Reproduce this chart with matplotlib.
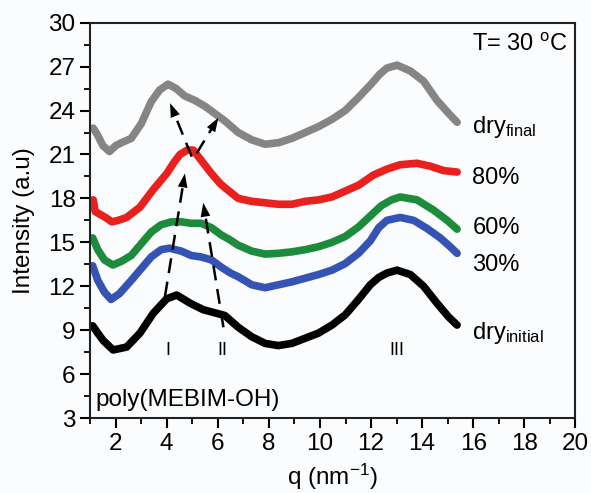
import matplotlib
matplotlib.use("Agg")
import matplotlib.pyplot as plt
from matplotlib.ticker import MultipleLocator

plt.rcParams['font.family'] = ['Liberation Sans', 'DejaVu Sans']
plt.rcParams['mathtext.default'] = 'regular'

# curves (q in nm^-1, intensity in a.u.)
q_final = [1.12, 1.3, 1.5, 1.76, 2.0, 2.22, 2.61, 3.0, 3.39, 3.72, 4.05, 4.37, 4.70,
           5.09, 5.49, 5.88, 6.27, 6.60, 6.80, 7.33, 7.85, 8.37, 8.90, 9.42, 9.94,
           10.47, 10.99, 11.51, 12.0, 12.35, 12.62, 13.02, 13.54, 14.06, 14.58, 15.04, 15.37]
i_final = [22.8, 22.3, 21.6, 21.2, 21.6, 21.8, 22.1, 23.1, 24.6, 25.4, 25.8, 25.5, 25.0,
           24.7, 24.3, 23.8, 23.3, 22.8, 22.5, 22.0, 21.7, 21.8, 22.1, 22.5, 22.9,
           23.4, 24.0, 24.9, 25.8, 26.5, 26.9, 27.1, 26.7, 26.0, 24.7, 23.8, 23.2]

q_80 = [1.12, 1.2, 1.4, 1.6, 1.85, 2.1, 2.43, 2.95, 3.47, 4.0, 4.3, 4.52, 4.8, 5.04,
        5.35, 5.75, 6.1, 6.3, 6.8, 7.33, 7.85, 8.37, 8.9, 9.42, 9.94, 10.47, 10.99,
        11.51, 12.1, 12.62, 13.14, 13.8, 14.32, 14.84, 15.37]
i_80 = [17.9, 17.1, 16.9, 16.7, 16.4, 16.5, 16.7, 17.4, 18.6, 19.7, 20.5, 21.0, 21.3, 21.3,
        20.6, 19.7, 19.0, 18.7, 18.0, 17.8, 17.7, 17.6, 17.6, 17.8, 17.9, 18.1, 18.5,
        18.9, 19.6, 20.0, 20.3, 20.4, 20.2, 19.9, 19.8]

q_60 = [1.1, 1.3, 1.56, 1.89, 2.22, 2.61, 3.0, 3.39, 3.78, 4.18, 4.57, 4.96, 5.35, 5.75,
        6.14, 6.45, 6.8, 7.33, 7.85, 8.37, 8.9, 9.42, 9.94, 10.47, 10.99, 11.51, 11.97,
        12.4, 12.8, 13.14, 13.8, 14.45, 14.98, 15.37]
i_60 = [15.3, 14.5, 13.8, 13.45, 13.7, 14.1, 14.9, 15.7, 16.2, 16.4, 16.4, 16.3, 16.3, 16.0,
        15.5, 15.2, 14.8, 14.4, 14.2, 14.25, 14.35, 14.5, 14.7, 15.0, 15.4, 16.05, 16.8,
        17.5, 17.9, 18.1, 17.9, 17.2, 16.5, 15.9]

q_30 = [1.1, 1.3, 1.56, 1.82, 2.15, 2.61, 3.0, 3.39, 3.78, 4.11, 4.57, 4.96, 5.35, 5.75,
        6.14, 6.5, 6.8, 7.33, 7.85, 8.37, 8.9, 9.42, 9.94, 10.47, 10.99, 11.51, 11.97,
        12.3, 12.62, 13.14, 13.67, 14.19, 14.71, 15.1, 15.37]
i_30 = [13.4, 12.4, 11.6, 11.1, 11.5, 12.4, 13.2, 14.0, 14.5, 14.6, 14.4, 14.1, 14.0, 13.8,
        13.3, 12.9, 12.65, 12.1, 11.9, 12.1, 12.3, 12.55, 12.8, 13.1, 13.55, 14.25, 15.1,
        16.0, 16.5, 16.7, 16.5, 15.95, 15.3, 14.7, 14.25]

q_init = [1.1, 1.3, 1.51, 1.9, 2.43, 2.95, 3.47, 4.0, 4.39, 4.91, 5.43, 5.96, 6.28, 6.8,
          7.33, 7.85, 8.37, 8.9, 9.42, 9.94, 10.47, 10.99, 11.51, 11.97, 12.3, 12.62,
          13.02, 13.54, 14.06, 14.58, 15.04, 15.37]
i_init = [9.3, 8.8, 8.3, 7.65, 7.85, 8.8, 10.15, 11.15, 11.4, 10.85, 10.4, 10.15, 10.0, 9.2,
          8.55, 8.1, 7.95, 8.1, 8.45, 8.8, 9.35, 10.05, 11.1, 12.1, 12.6, 12.9,
          13.1, 12.8, 12.0, 10.85, 9.9, 9.35]

labels = ['dry$_{final}$', '80%', '60%', '30%', 'dry$_{initial}$']
label_y = [22.9, 19.4, 16.0, 13.45, 8.8]
colors = ['#858585', '#e8201e', '#1c8c3c', '#3453b4', '#000000']

# dashed peak-shift arrows (tail q, tail I, head q, head I)
arrows = [(3.93, 11.3, 4.71, 19.7),
          (6.22, 9.2, 5.43, 17.7),
          (4.98, 20.85, 4.13, 24.5),
          (5.17, 21.08, 6.02, 23.5)]
peaks = ['I', 'II', 'III']
peak_q = [4.05, 6.17, 13.03]

bg = '#fbfcfd'
fig = plt.figure(figsize=(5.91, 4.93), dpi=100, facecolor=bg)
ax = fig.add_axes([0.1525, 0.152, 0.821, 0.802], facecolor=bg)

series = [(q_final, i_final), (q_80, i_80), (q_60, i_60), (q_30, i_30), (q_init, i_init)]
for (q, inten), c in zip(series, colors):
    ax.plot(q, inten, color=c, lw=5.5, solid_joinstyle='round', solid_capstyle='round')

for (x0, y0, x1, y1) in arrows:
    ax.plot([x0, x1 - 0.12 * (x1 - x0)], [y0, y1 - 0.12 * (y1 - y0)], color='black',
            lw=1.8, ls=(0, (6, 3.5)))
    ax.annotate('', xy=(x1, y1), xytext=(x0 + 0.8 * (x1 - x0), y0 + 0.8 * (y1 - y0)),
                arrowprops=dict(arrowstyle='-|>,head_length=1.0,head_width=0.35',
                                color='black', lw=0, shrinkA=0, shrinkB=0))

for lab, y in zip(labels, label_y):
    ax.text(15.97, y, lab, fontsize=17, va='center', ha='left')

for p, q in zip(peaks, peak_q):
    ax.text(q, 7.6, p, fontsize=13, ha='center', va='center')

ax.text(15.97, 28.5, 'T= 30 $^{o}$C', fontsize=17, va='center', ha='left')
ax.text(1.2, 4.2, 'poly(MEBIM-OH)', fontsize=17.5, va='center', ha='left')

ax.set_xlim(1, 20)
ax.set_ylim(3, 30)
ax.xaxis.set_major_locator(MultipleLocator(2))
ax.xaxis.set_minor_locator(MultipleLocator(1))
ax.yaxis.set_major_locator(MultipleLocator(3))
ax.yaxis.set_minor_locator(MultipleLocator(1.5))
ax.tick_params(which='major', direction='out', length=7, width=1.5, labelsize=17.5)
ax.tick_params(which='minor', direction='out', length=4, width=1.3)
for s in ax.spines.values():
    s.set_linewidth(1.5)
    s.set_color('#222222')

ax.set_xlabel('q (nm$^{-1}$)', fontsize=17.5, labelpad=5)
ax.set_ylabel('Intensity (a.u)', fontsize=17.5, labelpad=10)

fig.savefig('out.png', dpi=100, facecolor=bg)
